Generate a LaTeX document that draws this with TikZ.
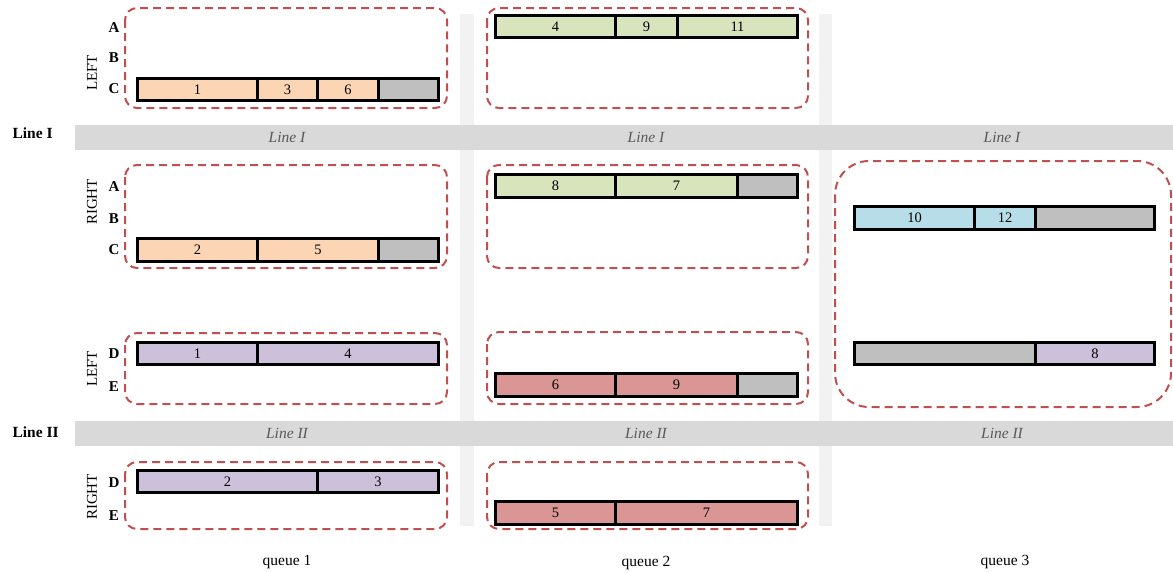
\documentclass[tikz,border=0pt]{standalone}
\usepackage{fontspec}
\setmainfont{Liberation Serif}
\usetikzlibrary{positioning}
\definecolor{PeachCell}{HTML}{FCD5B4}
\definecolor{GreenCell}{HTML}{D7E4BC}
\definecolor{LilacCell}{HTML}{CCC0DA}
\definecolor{RoseCell}{HTML}{D99694}
\definecolor{SkyCell}{HTML}{B7DEE8}
\definecolor{EmptyCell}{HTML}{BFBFBF}
\definecolor{BandGrey}{HTML}{D9D9D9}
\definecolor{SepGrey}{HTML}{F2F2F2}
\definecolor{GroupRed}{HTML}{C0504D}
\definecolor{BandText}{HTML}{595959}

\begin{document}
\begin{tikzpicture}[x=1pt,y=-1pt,
    cellbox/.style={draw,line width=3pt,minimum height=22.5pt,inner sep=0pt,
      outer sep=0pt,font=\fontsize{14.5}{16}\selectfont},
    groupbox/.style={draw=GroupRed,line width=2pt,dash pattern=on 8pt off 5pt,
      rounded corners=12pt},
    rowlab/.style={font=\fontsize{15}{17}\selectfont\bfseries},
    sidelab/.style={rotate=90,font=\fontsize{15}{17}\selectfont},
    linelab/.style={font=\fontsize{15.5}{17}\selectfont\bfseries,anchor=west},
    bandtext/.style={text=BandText,font=\fontsize{15.5}{17}\selectfont\itshape},
    queuelab/.style={font=\fontsize{15.5}{17}\selectfont}]
  \useasboundingbox (0,0) rectangle (1173,573);
  % column separators and line bands
  \fill[SepGrey] (460,14) rectangle (474,526);
  \fill[SepGrey] (819,14) rectangle (832,526);
  \fill[BandGrey] (75,125) rectangle (1173,150);
  \fill[BandGrey] (75,421) rectangle (1173,446);
  \node[linelab] (lineI) at (9,133) {Line I};
  \node[linelab] (lineII) at (9,432) {Line II};
  \foreach \cx in {287,646,1002}{
    \node[bandtext] at (\cx,137) {Line I};
    \node[bandtext] at (\cx,433) {Line II};
  }

  % side and row labels (queue 1)
  \node[sidelab] (sL1) at (92,73) {LEFT};
  \node[sidelab] (sR1) at (92,202) {RIGHT};
  \node[sidelab] (sL2) at (92,369) {LEFT};
  \node[sidelab] (sR2) at (92,497) {RIGHT};
  \node[rowlab] (rA1) at (114,28) {A};
  \node[rowlab] (rB1) at (114,58) {B};
  \node[rowlab] (rC1) at (114,89) {C};
  \node[rowlab] (rA2) at (114,187) {A};
  \node[rowlab] (rB2) at (114,219) {B};
  \node[rowlab] (rC2) at (114,250) {C};
  \node[rowlab] (rD1) at (114,354) {D};
  \node[rowlab] (rE1) at (114,387) {E};
  \node[rowlab] (rD2) at (114,483) {D};
  \node[rowlab] (rE2) at (114,516) {E};

  % dashed groups
  \draw[groupbox] (125,8) rectangle (447,108);
  \draw[groupbox] (125,165) rectangle (447,268);
  \draw[groupbox] (125,333) rectangle (447,404);
  \draw[groupbox] (125,462) rectangle (447,529);
  \draw[groupbox] (487,8) rectangle (808,108);
  \draw[groupbox] (487,165) rectangle (808,268);
  \draw[groupbox] (487,332) rectangle (808,404);
  \draw[groupbox] (487,462) rectangle (808,529);
  \draw[groupbox,rounded corners=34pt] (835,161) rectangle (1171,407);

  % queue 1
  \node[cellbox,fill=PeachCell,minimum width=120pt,anchor=west] (a1) at (137.5,89.5) {1};
  \node[cellbox,fill=PeachCell,minimum width=60pt,right=0pt of a1] (a3) {3};
  \node[cellbox,fill=PeachCell,minimum width=61pt,right=0pt of a3] (a6) {6};
  \node[cellbox,fill=EmptyCell,minimum width=60pt,right=0pt of a6] (ax) {};
  \node[cellbox,fill=PeachCell,minimum width=120pt,anchor=west] (b2) at (137.5,250) {2};
  \node[cellbox,fill=PeachCell,minimum width=121pt,right=0pt of b2] (b5) {5};
  \node[cellbox,fill=EmptyCell,minimum width=60pt,right=0pt of b5] (bx) {};
  \node[cellbox,fill=LilacCell,minimum width=120pt,anchor=west] (c1) at (137.5,353.5) {1};
  \node[cellbox,fill=LilacCell,minimum width=181pt,right=0pt of c1] (c4) {4};
  \node[cellbox,fill=LilacCell,minimum width=180pt,anchor=west] (d2) at (137.5,481.5) {2};
  \node[cellbox,fill=LilacCell,minimum width=121pt,right=0pt of d2] (d3) {3};

  % queue 2
  \node[cellbox,fill=GreenCell,minimum width=120pt,anchor=west] (e4) at (495.5,26.5) {4};
  \node[cellbox,fill=GreenCell,minimum width=62pt,right=0pt of e4] (e9) {9};
  \node[cellbox,fill=GreenCell,minimum width=120pt,right=0pt of e9] (e11) {11};
  \node[cellbox,fill=GreenCell,minimum width=120pt,anchor=west] (f8) at (495.5,186) {8};
  \node[cellbox,fill=GreenCell,minimum width=122pt,right=0pt of f8] (f7) {7};
  \node[cellbox,fill=EmptyCell,minimum width=60pt,right=0pt of f7] (fx) {};
  \node[cellbox,fill=RoseCell,minimum width=120pt,anchor=west] (g6) at (495.5,385) {6};
  \node[cellbox,fill=RoseCell,minimum width=122pt,right=0pt of g6] (g9) {9};
  \node[cellbox,fill=EmptyCell,minimum width=60pt,right=0pt of g9] (gx) {};
  \node[cellbox,fill=RoseCell,minimum width=120pt,anchor=west] (h5) at (495.5,513) {5};
  \node[cellbox,fill=RoseCell,minimum width=182pt,right=0pt of h5] (h7) {7};

  % queue 3
  \node[cellbox,fill=SkyCell,minimum width=120pt,anchor=west] (k10) at (854.5,218) {10};
  \node[cellbox,fill=SkyCell,minimum width=61pt,right=0pt of k10] (k12) {12};
  \node[cellbox,fill=EmptyCell,minimum width=119pt,right=0pt of k12] (kx) {};
  \node[cellbox,fill=EmptyCell,minimum width=181pt,anchor=west] (mx) at (854.5,353.5) {};
  \node[cellbox,fill=LilacCell,minimum width=119pt,right=0pt of mx] (m8) {8};

  \node[queuelab] (q1) at (287,562) {queue 1};
  \node[queuelab] (q2) at (646,563) {queue 2};
  \node[queuelab] (q3) at (1005,562) {queue 3};
\end{tikzpicture}
\end{document}
